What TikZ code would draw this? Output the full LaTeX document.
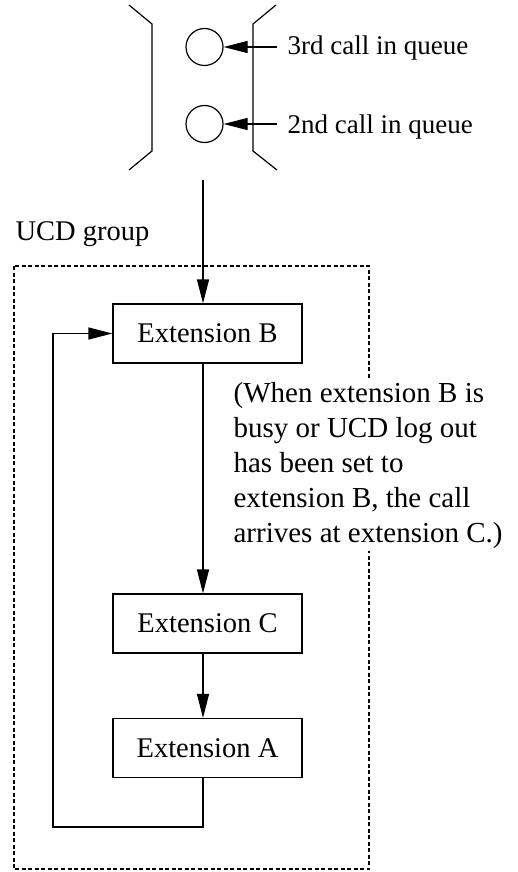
\documentclass[tikz,border=0pt]{standalone}
\usepackage{fontspec}
\setmainfont{Liberation Serif}
\usetikzlibrary{arrows.meta,calc}
\begin{document}
\begin{tikzpicture}[x=1pt,y=-1pt,line width=1.2pt,
  every node/.style={font=\fontsize{28.5}{35}\selectfont},
  extbox/.style={draw,minimum width=189pt,minimum height=59pt,inner sep=0pt},
  lbl/.style={anchor=base west,inner sep=0pt},
  qlbl/.style={lbl,font=\fontsize{27}{33}\selectfont},
  qcall/.style={draw,circle,minimum size=37pt,inner sep=0pt},
  arr/.style={-{Triangle[length=24pt,width=12pt]}},
  grp/.style={draw,dash pattern=on 4pt off 2.5pt}]
\useasboundingbox (0,0) rectangle (518,872);
% queue brackets
\draw (129,5) -- (152,24) -- (152,151) -- (129,170);
\draw (276,5) -- (253,24) -- (253,151) -- (277,170);
% queued calls
\node[qcall] (c3) at (204.5,47) {};
\node[qcall] (c2) at (204.5,124) {};
\node[qlbl] (t3) at (287,55) {3rd call in queue};
\node[qlbl] (t2) at (287,133) {2nd call in queue};
\coordinate (a3) at (277,47);
\coordinate (a2) at (277,124);
\draw[arr] (a3) -- (c3);
\draw[arr] (a2) -- (c2);
% group
\node[lbl] (grplbl) at (15,240) {UCD group};
\draw[grp] (14,266) rectangle (369,869);
% extensions
\node[extbox] (B) at (207.5,333.5) {Extension B};
\node[extbox] (C) at (207.5,623.5) {Extension C};
\node[extbox] (A) at (207.5,748) {Extension A};
\coordinate (qin) at (203,180);
\coordinate (fb) at (53,827);
\draw[arr] (qin) -- (qin |- B.north);
\draw[arr] (B.south -| qin) -- (C.north -| qin);
\draw[arr] (C.south -| qin) -- (A.north -| qin);
\draw[arr] (A.south -| qin) |- (fb) |- (B.west);
% note
\node[anchor=base west,align=left,fill=white,inner xsep=0pt,inner ysep=3pt,
  font=\fontsize{29}{35}\selectfont] (note) at (233,542)
  {(When extension B is\\busy or UCD log out\\has been set to\\extension B, the call\\arrives at extension C.)};
\end{tikzpicture}
\end{document}
